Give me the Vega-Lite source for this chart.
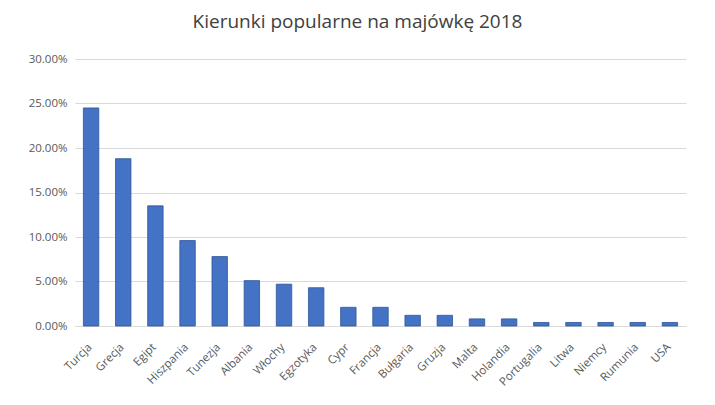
{
  "$schema": "https://vega.github.io/schema/vega-lite/v6.json",
  "width": 611,
  "height": 267,
  "autosize": "none",
  "padding": {"left": 75, "top": 59, "right": 29, "bottom": 79},
  "background": "white",
  "title": {
    "text": "Kierunki popularne na majówkę 2018",
    "font": "Open Sans",
    "fontSize": 19,
    "fontWeight": "normal",
    "color": "#404040",
    "offset": 21,
    "dx": -23
  },
  "data": {
    "values": [
      {"kraj": "Turcja", "udzial": 0.245},
      {"kraj": "Grecja", "udzial": 0.188},
      {"kraj": "Egipt", "udzial": 0.135},
      {"kraj": "Hiszpania", "udzial": 0.096},
      {"kraj": "Tunezja", "udzial": 0.078},
      {"kraj": "Albania", "udzial": 0.051},
      {"kraj": "Włochy", "udzial": 0.047},
      {"kraj": "Egzotyka", "udzial": 0.043},
      {"kraj": "Cypr", "udzial": 0.021},
      {"kraj": "Francja", "udzial": 0.021},
      {"kraj": "Bułgaria", "udzial": 0.012},
      {"kraj": "Gruzja", "udzial": 0.012},
      {"kraj": "Malta", "udzial": 0.008},
      {"kraj": "Holandia", "udzial": 0.008},
      {"kraj": "Portugalia", "udzial": 0.004},
      {"kraj": "Litwa", "udzial": 0.004},
      {"kraj": "Niemcy", "udzial": 0.004},
      {"kraj": "Rumunia", "udzial": 0.004},
      {"kraj": "USA", "udzial": 0.004}
    ]
  },
  "mark": {"type": "bar", "color": "#4472c4", "stroke": "#2f5597", "strokeWidth": 0.8},
  "encoding": {
    "x": {
      "field": "kraj",
      "type": "nominal",
      "sort": null,
      "scale": {"paddingInner": 0.52, "paddingOuter": 0.26},
      "axis": {
        "title": null,
        "labelAngle": -45,
        "labelFont": "Open Sans",
        "labelFontSize": 11.5,
        "labelColor": "#595959",
        "ticks": false,
        "labelPadding": 15,
        "labelOffset": -5,
        "domainColor": "#d9d9d9",
        "domainWidth": 1
      }
    },
    "y": {
      "field": "udzial",
      "type": "quantitative",
      "scale": {"domain": [0, 0.3]},
      "axis": {
        "title": null,
        "format": ".2%",
        "values": [0, 0.05, 0.1, 0.15, 0.2, 0.25, 0.3],
        "labelFont": "Open Sans",
        "labelFontSize": 11.5,
        "labelColor": "#595959",
        "ticks": false,
        "domain": false,
        "labelPadding": 8,
        "gridColor": "#d9d9d9",
        "gridWidth": 1
      }
    }
  },
  "config": {"view": {"stroke": null}}
}
